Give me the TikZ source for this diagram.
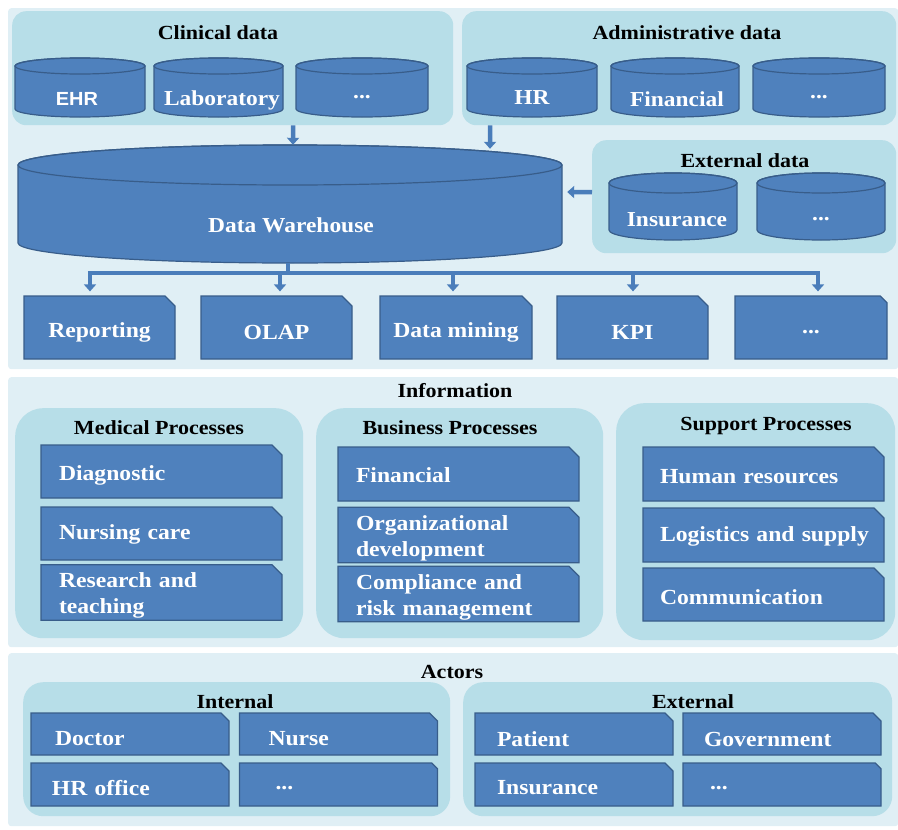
\documentclass[tikz,border=0pt]{standalone}
\usepackage{fontspec}
\setmainfont{Liberation Serif}[FakeStretch=1.1]
\newfontfamily\labsans{Liberation Sans}[FakeStretch=1.05]
\usetikzlibrary{shapes.misc, arrows.meta}

\definecolor{panelbg}{HTML}{E0EFF5}
\definecolor{groupbg}{HTML}{B7DEE8}
\definecolor{boxblue}{HTML}{4F81BD}
\definecolor{boxedge}{HTML}{385D8A}
\definecolor{linkblue}{HTML}{4A7DBA}

% set a label lower inside its box without changing the box size
\newcommand\dn[2][4pt]{\raisebox{-#1}[\height][\depth]{#2}}

\tikzset{
  panel/.style={fill=panelbg, draw=none, rounded corners=3pt, anchor=north west, inner sep=0pt},
  group/.style={fill=groupbg, draw=none, rounded corners=#1, anchor=north west, inner sep=0pt},
  grouptitle/.style={text=black, font=\bfseries\fontsize{20}{23}\selectfont, inner sep=0pt},
  dbbody/.style={fill=boxblue, draw=boxedge, line width=1.2pt},
  dbrim/.style={draw=boxedge, line width=1.2pt},
  frame/.style={draw=none, fill=none, inner sep=0pt},
  dbtext/.style={text=white, font=\bfseries\fontsize{21.3}{25}\selectfont, inner sep=0pt},
  doc/.style={chamfered rectangle, chamfered rectangle corners=north east,
    chamfered rectangle xsep=#1, chamfered rectangle ysep=#1,
    fill=boxblue, draw=boxedge, line width=1.2pt, inner sep=0pt,
    text=white, font=\bfseries\fontsize{21.5}{26}\selectfont},
  doc/.default=5pt,
  bus/.style={draw=linkblue, line width=4.5pt},
  blockarrow/.style={draw=linkblue, line width=4.5pt,
    -{Triangle[width=12pt,length=7pt,fill=linkblue]}},
}

% cylinder: name, left x, right x, top y, bottom y, rim radius
\newcommand\dbcyl[6]{%
  \draw[dbbody] ({#2},{-(#4)-(#6)}) -- ({#2},{-(#5)+(#6)})
    arc[start angle=180, end angle=360, x radius={((#3)-(#2))/2}, y radius={#6}]
    -- ({#3},{-(#4)-(#6)})
    arc[start angle=0, end angle=180, x radius={((#3)-(#2))/2}, y radius={#6}] -- cycle;
  \draw[dbrim] ({((#2)+(#3))/2},{-(#4)-(#6)}) ellipse [x radius={((#3)-(#2))/2}, y radius={#6}];
  \node[frame, minimum width={(#3)-(#2)}, minimum height={(#5)-(#4)}] (#1)
    at ({((#2)+(#3))/2},{-((#4)+(#5))/2}) {};
}

\begin{document}
\begin{tikzpicture}[x=1pt, y=1pt]
\useasboundingbox (0,0) rectangle (898,-830);

% ---------- panels ----------
\node[panel, minimum width=890, minimum height=361] (sources) at (8,-8) {};
\node[panel, minimum width=890, minimum height=270] (information) at (8,-377) {};
\node[panel, minimum width=890, minimum height=173] (actors) at (8,-653) {};

% ---------- data sources ----------
\node[group=14pt, minimum width=441, minimum height=114] (clinical) at (12,-11) {};
\node[group=14pt, minimum width=434, minimum height=114] (admin) at (462,-11) {};
\node[group=14pt, minimum width=304, minimum height=113] (external) at (592,-140) {};

\node[grouptitle] (clinical-title) at (218,-33) {Clinical data};
\node[grouptitle] (admin-title) at (687,-33) {Administrative data};
\node[grouptitle] (external-title) at (745,-161) {External data};

\dbcyl{ehr}{15}{145}{58}{117}{8}
\dbcyl{lab}{154}{283}{58}{117}{8}
\dbcyl{clin-more}{296}{428}{58}{117}{8}
\dbcyl{hr}{467}{597}{58}{117}{8}
\dbcyl{fin}{611}{739}{58}{117}{8}
\dbcyl{admin-more}{753}{885}{58}{117}{8}
\dbcyl{ins}{609}{737}{173}{240}{10}
\dbcyl{ext-more}{757}{885}{173}{240}{10}
\dbcyl{dw}{18}{562}{145}{263}{20}

\node[dbtext, font=\labsans\bfseries\fontsize{19}{22}\selectfont] (ehr-label) at (77,-99) {EHR};
\node[dbtext] (lab-label) at (222,-98) {\dn[2pt]{Laboratory}};
\node[dbtext] (clin-more-label) at (362,-97) {...};
\node[dbtext] (hr-label) at (532,-98) {HR};
\node[dbtext] (fin-label) at (677,-98) {\dn[1pt]{Financial}};
\node[dbtext] (admin-more-label) at (819,-97) {...};
\node[dbtext] (ins-label) at (677,-219) {\dn[1pt]{Insurance}};
\node[dbtext] (ext-more-label) at (821,-219) {...};
\node[dbtext] (dw-label) at (291,-224) {\dn[1pt]{Data Warehouse}};

% feeds into the warehouse
\draw[blockarrow] ([xshift=60.5pt]clinical.south) -- ([xshift=3pt]dw.north);
\draw[blockarrow] ([xshift=-189pt]admin.south) -- ([xshift=200pt,yshift=-4pt]dw.north);
\draw[blockarrow] ([yshift=4.5pt]external.west) -- ([xshift=5pt,yshift=12pt]dw.east);

% analysis tools
\tikzset{tool/.style={doc=5pt, minimum height=63}}
\node[tool, minimum width=151] (reporting) at (99.5,-327.5) {\dn[5pt]{Reporting}};
\node[tool, minimum width=151] (olap) at (276.5,-327.5) {\dn[5pt]{OLAP}};
\node[tool, minimum width=152] (mining) at (456,-327.5) {\dn[5pt]{Data mining}};
\node[tool, minimum width=151] (kpi) at (632.5,-327.5) {\dn[5pt]{KPI}};
\node[tool, minimum width=152] (tools-more) at (811,-327.5) {\dn[5pt]{...}};

\coordinate (busline) at (0,-273);
\coordinate (dw-out) at ([xshift=-2pt]dw.south);
\coordinate (reporting-in) at ([xshift=-9.5pt]reporting.north);
\coordinate (olap-in) at ([xshift=3.5pt]olap.north);
\coordinate (mining-in) at ([xshift=-3pt]mining.north);
\coordinate (kpi-in) at ([xshift=0.5pt]kpi.north);
\coordinate (tools-more-in) at ([xshift=7pt]tools-more.north);

\draw[bus] (dw-out) -- (dw-out |- busline);
\draw[bus, line cap=butt] ([xshift=-2.25pt]reporting-in |- busline) -- ([xshift=2.25pt]tools-more-in |- busline);
\foreach \t in {reporting, olap, mining, kpi, tools-more}
  \draw[blockarrow] (\t-in |- busline) -- ([yshift=4pt]\t-in);

% ---------- information ----------
\node[grouptitle] (information-title) at (455,-391) {Information};

\node[group=28pt, minimum width=288, minimum height=230] (medical) at (15,-408) {};
\node[group=28pt, minimum width=287, minimum height=230] (business) at (316,-408) {};
\node[group=28pt, minimum width=279, minimum height=237] (support) at (616,-403) {};

\node[grouptitle] (medical-title) at (159,-428) {Medical Processes};
\node[grouptitle] (business-title) at (450,-428) {Business Processes};
\node[grouptitle] (support-title) at (766,-426) {Support Processes};

\tikzset{proc/.style={doc=5pt, minimum width=241, text width=205, align=left}}
\node[proc, minimum height=53] (diagnostic) at (161.5,-471.5) {\dn[4pt]{Diagnostic}};
\node[proc, minimum height=53] (nursing) at (161.5,-533.5) {\dn[1pt]{Nursing care}};
\node[proc, minimum height=53] (research) at (161.5,-592.5) {\dn[3pt]{Research and}\\\dn[3pt]{teaching}};

\node[proc, minimum height=54] (financial) at (458.5,-474) {\dn[1pt]{Financial}};
\node[proc, minimum height=54] (orgdev) at (458.5,-535) {\dn[3pt]{Organizational}\\\dn[3pt]{development}};
\node[proc, minimum height=54] (compliance) at (458.5,-594) {\dn[3pt]{Compliance and}\\\dn[3pt]{risk management}};

\node[proc, minimum height=54, text width=207] (humanres) at (763.5,-474) {\dn[3pt]{Human resources}};
\node[proc, minimum height=54, text width=207] (logistics) at (763.5,-535) {\dn[1pt]{Logistics and supply}};
\node[proc, minimum height=53, text width=207] (communication) at (763.5,-594.5) {\dn[3pt]{Communication}};

% ---------- actors ----------
\node[grouptitle] (actors-title) at (452,-672) {Actors};

\node[group=20pt, minimum width=427, minimum height=134] (internal) at (23,-682) {};
\node[group=20pt, minimum width=429, minimum height=134] (externalactors) at (463,-682) {};

\node[grouptitle] (internal-title) at (235,-702) {Internal};
\node[grouptitle] (externalactors-title) at (693,-702) {External};

\tikzset{actor/.style={doc=4pt, minimum width=198, minimum height=42, align=left}}
\node[actor, text width=150] (doctor) at (130,-734) {\dn[5pt]{Doctor}};
\node[actor, text width=140] (nurse) at (338.5,-734) {\dn[5pt]{Nurse}};
\node[actor, text width=156, minimum height=43] (hroffice) at (130,-784.5) {\dn[4pt]{HR office}};
\node[actor, text width=126, minimum height=43] (internal-more) at (338.5,-784.5) {\dn[4pt]{...}};
\node[actor, text width=154] (patient) at (574,-734) {\dn[5pt]{Patient}};
\node[actor, text width=156] (government) at (782,-734) {\dn[5pt]{Government}};
\node[actor, text width=154, minimum height=43] (insurer) at (574,-784.5) {\dn[3pt]{Insurance}};
\node[actor, text width=144, minimum height=43] (external-more) at (782,-784.5) {\dn[4pt]{...}};

\end{tikzpicture}
\end{document}
